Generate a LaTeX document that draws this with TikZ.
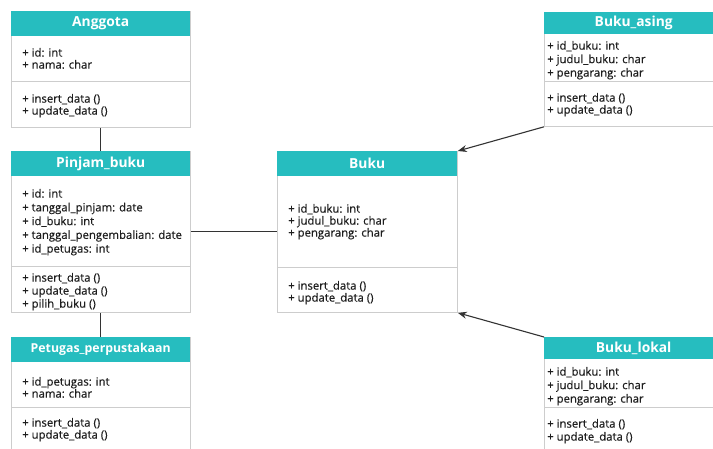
\documentclass[tikz,border=0pt]{standalone}
\usepackage{fontspec}
\setmainfont{Open Sans}
\newfontfamily\memberfont{Open Sans}[FakeBold=0.4]
\usetikzlibrary{arrows.meta}
\definecolor{teal1}{RGB}{38,189,191}
\definecolor{boxline}{RGB}{205,205,205}
\definecolor{txt}{RGB}{30,30,30}
\tikzset{
  classbox/.style={draw=boxline, line width=0.8pt, fill=white, rectangle, inner sep=0pt, anchor=north west, minimum width=179pt},
  header/.style={fill=teal1, text=white, font=\bfseries\fontsize{13.8}{15}\selectfont, inner sep=0pt, anchor=north west, minimum width=179pt},
  members/.style={anchor=north west, inner sep=0pt, align=left, text=txt, font=\memberfont\fontsize{11.35}{#1}\selectfont},
  members/.default=12,
  divider/.style={draw=boxline, line width=0.8pt},
  link/.style={draw=black!80, line width=1.1pt},
  inherit/.style={link, -{Stealth[length=9pt,width=7pt]}}
}
\begin{document}
\begin{tikzpicture}[x=1pt,y=-1pt]
\useasboundingbox (0,0) rectangle (713,448);
\clip (0,0) rectangle (713,448);
\fill[white] (0,0) rectangle (713,448);

% Anggota
\node[classbox, minimum height=116pt] (anggota) at (11,11) {};
\node[header, minimum height=25pt] (anggotaH) at (11,11) {Anggota};
\draw[divider] (11,81) -- (190,81);
\node[members=12] (anggotaA) at (22,47.8) {+ id: int\\+ nama: char};
\node[members=12] (anggotaM) at (22,93.8) {+ insert\_data ()\\+ update\_data ()};

% Pinjam_buku
\node[classbox, minimum height=161pt] (pinjam) at (11,151) {};
\node[header, minimum height=25pt] (pinjamH) at (11,151) {Pinjam\_buku};
\draw[divider] (11,266) -- (190,266);
\node[members=13.75] (pinjamA) at (22,188.8) {+ id: int\\+ tanggal\_pinjam: date\\+ id\_buku: int\\+ tanggal\_pengembalian: date\\+ id\_petugas: int};
\node[members=13] (pinjamM) at (22,272.8) {+ insert\_data ()\\+ update\_data ()\\+ pilih\_buku ()};

% Petugas_perpustakaan
\node[classbox, minimum height=130pt] (petugas) at (11,337) {};
\node[header, minimum height=25pt, font=\bfseries\fontsize{12.3}{14}\selectfont] (petugasH) at (11,337) {Petugas\_perpustakaan};
\draw[divider] (11,407) -- (190,407);
\node[members=12] (petugasA) at (22,376.8) {+ id\_petugas: int\\+ nama: char};
\node[members=12] (petugasM) at (22,417.8) {+ insert\_data ()\\+ update\_data ()};

% Buku
\node[classbox, minimum width=180pt, minimum height=161pt] (buku) at (277,151) {};
\node[header, minimum width=180pt, minimum height=25pt] (bukuH) at (277,151) {Buku};
\draw[divider] (277,267) -- (457,267);
\node[members=12] (bukuA) at (288,203.8) {+ id\_buku: int\\+ judul\_buku: char\\+ pengarang: char};
\node[members=12] (bukuM) at (288,280.8) {+ insert\_data ()\\+ update\_data ()};

% Buku_asing
\node[classbox, minimum height=114pt] (asing) at (544,12) {};
\node[header, minimum height=22pt] (asingH) at (544,12) {Buku\_asing};
\draw[divider] (544,81) -- (723,81);
\node[members=13.5] (asingA) at (547,40.8) {+ id\_buku: int\\+ judul\_buku: char\\+ pengarang: char};
\node[members=12] (asingM) at (547,92.8) {+ insert\_data ()\\+ update\_data ()};

% Buku_lokal
\node[classbox, minimum height=130pt] (lokal) at (544,337) {};
\node[header, minimum height=22pt] (lokalH) at (544,337) {Buku\_lokal};
\draw[divider] (544,407) -- (723,407);
\node[members=13.5] (lokalA) at (547,366.8) {+ id\_buku: int\\+ judul\_buku: char\\+ pengarang: char};
\node[members=13] (lokalM) at (547,418.8) {+ insert\_data ()\\+ update\_data ()};

% connectors
\draw[link] (anggota.south) -- (pinjam.north);
\draw[link] (pinjam.south) -- (petugas.north);
\draw[link] (pinjam.east) -- (buku.west);
\draw[inherit] (asing.south west) -- (buku.north east);
\draw[inherit] (lokal.north west) -- (buku.south east);
\end{tikzpicture}
\end{document}
